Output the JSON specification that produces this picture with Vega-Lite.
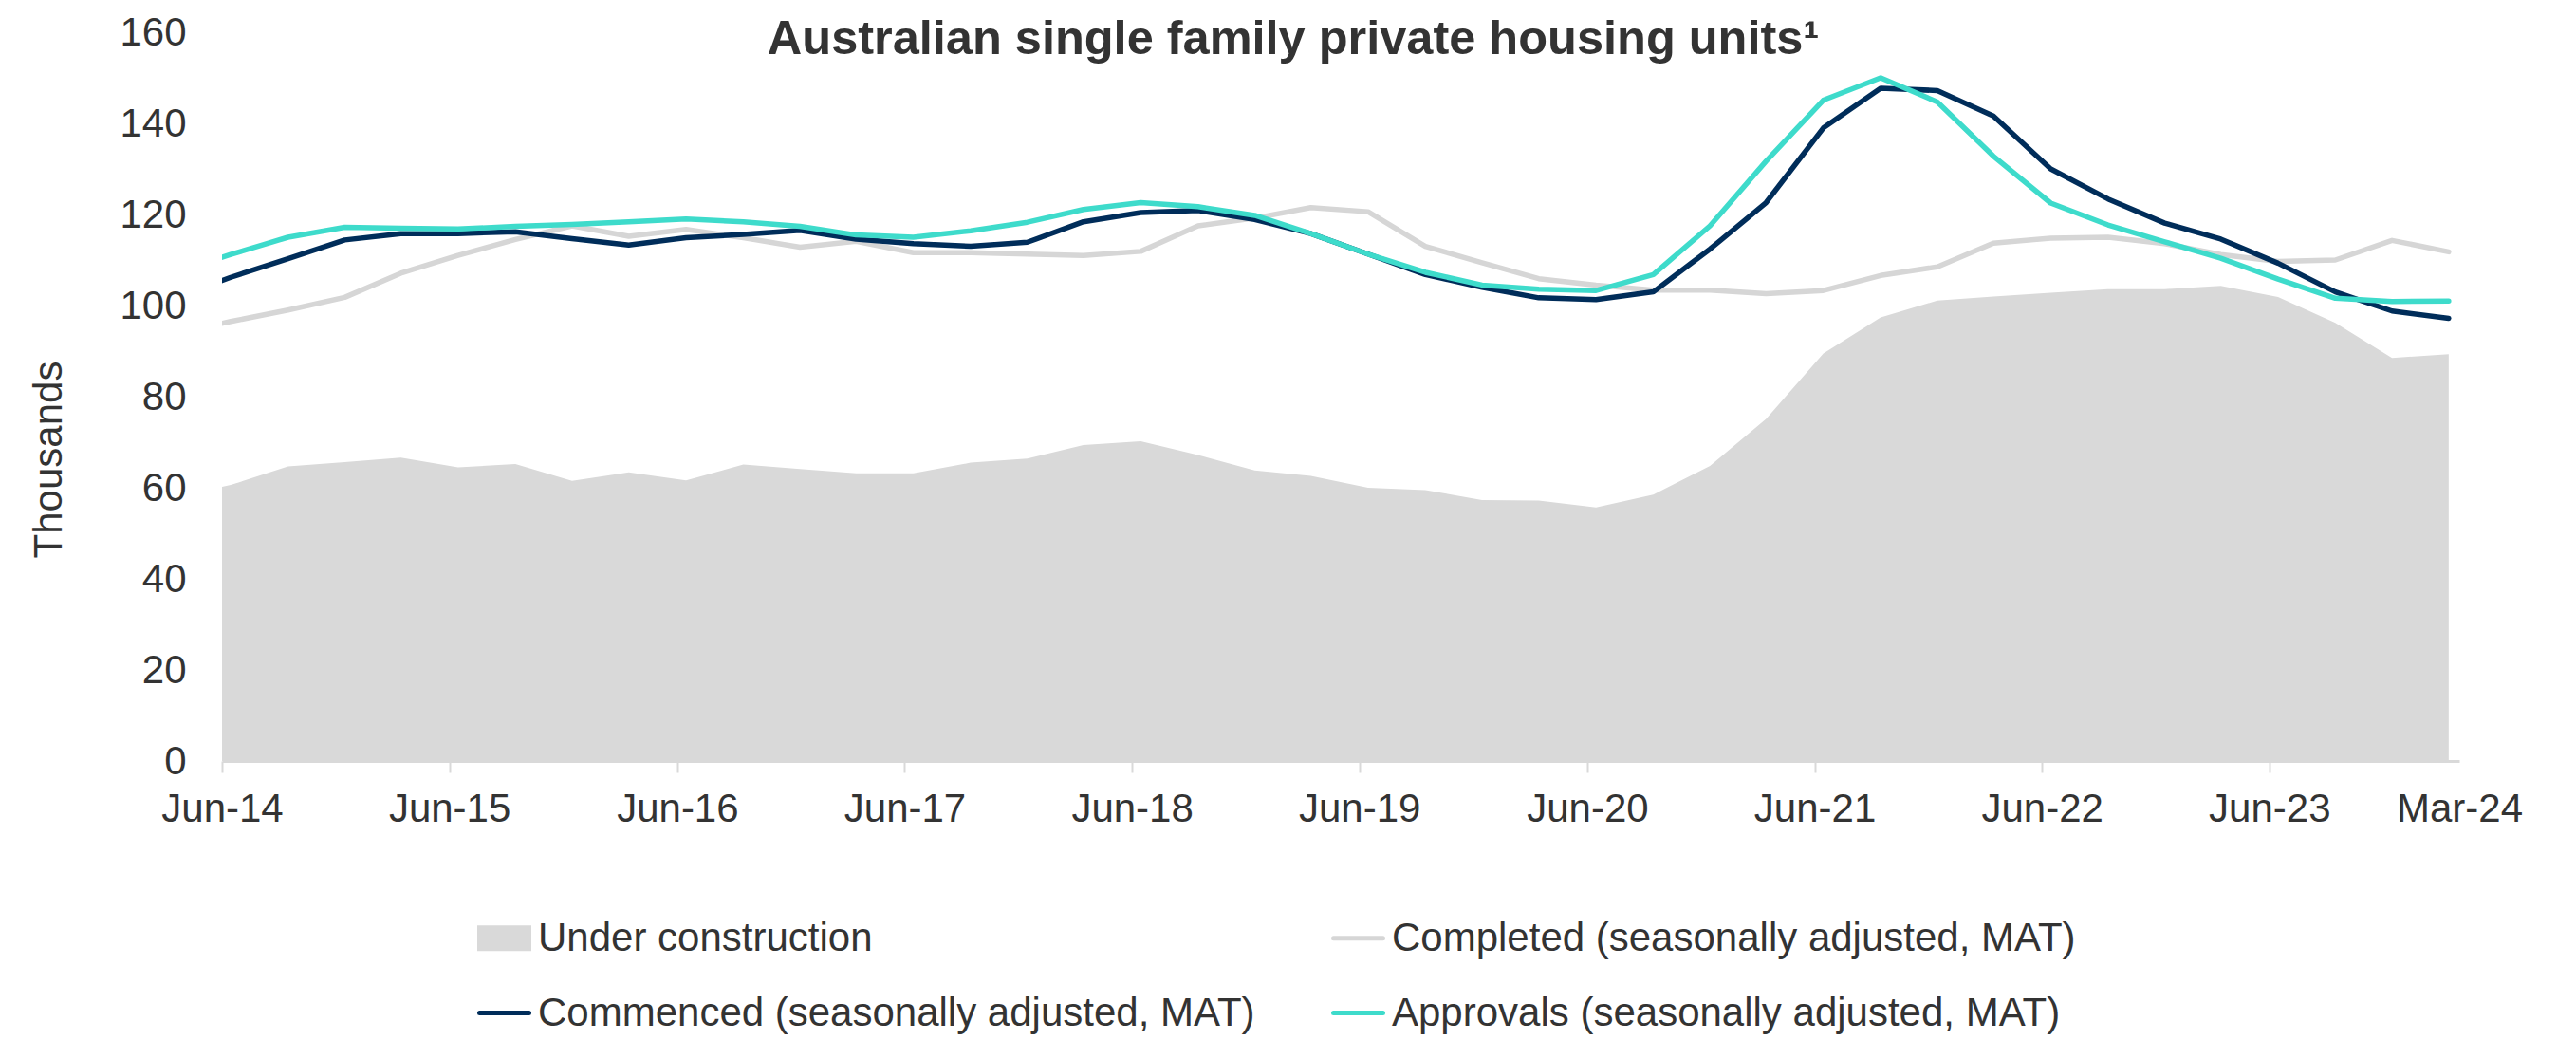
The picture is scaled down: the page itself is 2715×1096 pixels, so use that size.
{
  "$schema": "https://vega.github.io/schema/vega-lite/v6.json",
  "width": 2358,
  "height": 768,
  "autosize": {"type": "none"},
  "padding": {"left": 234, "top": 34, "right": 123, "bottom": 294},
  "background": "white",
  "config": {"view": {"stroke": null}, "font": "Liberation Sans"},
  "title": {
    "text": "Australian single family private housing units¹",
    "fontSize": 50.5,
    "fontWeight": "bold",
    "color": "#333333",
    "anchor": "middle",
    "frame": "group",
    "dx": -50,
    "baseline": "alphabetic",
    "offset": -94
  },
  "data": {
    "values": [
      {"date": "2014-03-15", "uc": 58.0, "completed": 93.8, "commenced": 101.5, "approvals": 107.2},
      {"date": "2014-06-15", "uc": 60.6, "completed": 96.5, "commenced": 106.2, "approvals": 111.2},
      {"date": "2014-09-15", "uc": 64.7, "completed": 99.0, "commenced": 110.3, "approvals": 115.0},
      {"date": "2014-12-15", "uc": 65.6, "completed": 101.8, "commenced": 114.4, "approvals": 117.2},
      {"date": "2015-03-15", "uc": 66.6, "completed": 107.1, "commenced": 115.8, "approvals": 117.0},
      {"date": "2015-06-15", "uc": 64.5, "completed": 111.0, "commenced": 115.8, "approvals": 116.8},
      {"date": "2015-09-15", "uc": 65.2, "completed": 114.5, "commenced": 116.2, "approvals": 117.4},
      {"date": "2015-12-15", "uc": 61.5, "completed": 117.5, "commenced": 114.7, "approvals": 117.8},
      {"date": "2016-03-15", "uc": 63.4, "completed": 115.2, "commenced": 113.3, "approvals": 118.4},
      {"date": "2016-06-15", "uc": 61.6, "completed": 116.7, "commenced": 114.9, "approvals": 119.0},
      {"date": "2016-09-15", "uc": 65.1, "completed": 114.9, "commenced": 115.6, "approvals": 118.4},
      {"date": "2016-12-15", "uc": 64.1, "completed": 112.8, "commenced": 116.5, "approvals": 117.4},
      {"date": "2017-03-15", "uc": 63.2, "completed": 114.1, "commenced": 114.6, "approvals": 115.5},
      {"date": "2017-06-15", "uc": 63.2, "completed": 111.6, "commenced": 113.6, "approvals": 115.0},
      {"date": "2017-09-15", "uc": 65.5, "completed": 111.6, "commenced": 113.0, "approvals": 116.4},
      {"date": "2017-12-15", "uc": 66.4, "completed": 111.3, "commenced": 113.9, "approvals": 118.3},
      {"date": "2018-03-15", "uc": 69.4, "completed": 111.0, "commenced": 118.4, "approvals": 121.1},
      {"date": "2018-06-15", "uc": 70.2, "completed": 111.9, "commenced": 120.4, "approvals": 122.6},
      {"date": "2018-09-15", "uc": 67.2, "completed": 117.5, "commenced": 120.9, "approvals": 121.7},
      {"date": "2018-12-15", "uc": 63.8, "completed": 119.2, "commenced": 118.9, "approvals": 119.8},
      {"date": "2019-03-15", "uc": 62.6, "completed": 121.5, "commenced": 115.8, "approvals": 115.8},
      {"date": "2019-06-15", "uc": 60.0, "completed": 120.6, "commenced": 111.3, "approvals": 111.3},
      {"date": "2019-09-15", "uc": 59.5, "completed": 113.0, "commenced": 106.8, "approvals": 107.3},
      {"date": "2019-12-15", "uc": 57.3, "completed": 109.4, "commenced": 104.0, "approvals": 104.5},
      {"date": "2020-03-15", "uc": 57.2, "completed": 105.9, "commenced": 101.7, "approvals": 103.6},
      {"date": "2020-06-15", "uc": 55.7, "completed": 104.5, "commenced": 101.3, "approvals": 103.3},
      {"date": "2020-09-15", "uc": 58.5, "completed": 103.4, "commenced": 103.0, "approvals": 106.8},
      {"date": "2020-12-15", "uc": 64.8, "completed": 103.4, "commenced": 112.4, "approvals": 117.5},
      {"date": "2021-03-15", "uc": 75.1, "completed": 102.6, "commenced": 122.6, "approvals": 131.7},
      {"date": "2021-06-15", "uc": 89.5, "completed": 103.3, "commenced": 139.0, "approvals": 145.1},
      {"date": "2021-09-15", "uc": 97.4, "completed": 106.6, "commenced": 147.7, "approvals": 150.0},
      {"date": "2021-12-15", "uc": 101.1, "completed": 108.5, "commenced": 147.2, "approvals": 144.7},
      {"date": "2022-03-15", "uc": 102.0, "completed": 113.7, "commenced": 141.6, "approvals": 132.8},
      {"date": "2022-06-15", "uc": 102.8, "completed": 114.8, "commenced": 130.0, "approvals": 122.5},
      {"date": "2022-09-15", "uc": 103.6, "completed": 115.0, "commenced": 123.4, "approvals": 117.7},
      {"date": "2022-12-15", "uc": 103.6, "completed": 113.6, "commenced": 118.1, "approvals": 114.0},
      {"date": "2023-03-15", "uc": 104.3, "completed": 111.2, "commenced": 114.6, "approvals": 110.4},
      {"date": "2023-06-15", "uc": 101.9, "completed": 109.7, "commenced": 109.3, "approvals": 105.8},
      {"date": "2023-09-15", "uc": 96.2, "completed": 110.0, "commenced": 103.0, "approvals": 101.6},
      {"date": "2023-12-15", "uc": 88.5, "completed": 114.3, "commenced": 98.8, "approvals": 100.9},
      {"date": "2024-03-15", "uc": 89.3, "completed": 111.8, "commenced": 97.2, "approvals": 101.0}
    ]
  },
  "transform": [{"fold": ["uc", "completed", "commenced", "approvals"], "as": ["series", "value"]}],
  "encoding": {
    "x": {
      "field": "date",
      "type": "temporal",
      "scale": {
        "type": "utc",
        "domain": [
          {"year": 2014, "month": 6, "date": 1, "utc": true},
          {"year": 2024, "month": 4, "date": 1, "utc": true}
        ]
      },
      "axis": {
        "values": [
          {"year": 2014, "month": 6, "date": 1, "utc": true},
          {"year": 2015, "month": 6, "date": 1, "utc": true},
          {"year": 2016, "month": 6, "date": 1, "utc": true},
          {"year": 2017, "month": 6, "date": 1, "utc": true},
          {"year": 2018, "month": 6, "date": 1, "utc": true},
          {"year": 2019, "month": 6, "date": 1, "utc": true},
          {"year": 2020, "month": 6, "date": 1, "utc": true},
          {"year": 2021, "month": 6, "date": 1, "utc": true},
          {"year": 2022, "month": 6, "date": 1, "utc": true},
          {"year": 2023, "month": 6, "date": 1, "utc": true},
          {"year": 2024, "month": 4, "date": 1, "utc": true}
        ],
        "labelExpr": "utcmonth(datum.value) == 3 ? 'Mar-24' : utcFormat(datum.value, '%b-%y')",
        "title": null,
        "grid": false,
        "domainColor": "#D9D9D9",
        "domainWidth": 3,
        "tickColor": "#D9D9D9",
        "tickWidth": 2,
        "tickSize": 12,
        "tickOpacity": {"condition": {"test": "utcmonth(datum.value) == 3", "value": 0}, "value": 1},
        "labelFontSize": 42,
        "labelColor": "#333333",
        "labelPadding": 18,
        "labelFlush": false,
        "labelOverlap": false
      }
    },
    "y": {
      "field": "value",
      "type": "quantitative",
      "scale": {"domain": [0, 160], "nice": false},
      "axis": {
        "values": [0, 20, 40, 60, 80, 100, 120, 140, 160],
        "title": "Thousands",
        "titleFontSize": 42,
        "titleFontWeight": "normal",
        "titleColor": "#333333",
        "titleAngle": 270,
        "titleX": -183,
        "titleY": 450,
        "titleAlign": "center",
        "titleBaseline": "middle",
        "domain": false,
        "ticks": false,
        "grid": false,
        "labelFontSize": 42,
        "labelColor": "#333333",
        "labelPadding": 38
      }
    },
    "color": {
      "field": "series",
      "type": "nominal",
      "scale": {
        "domain": ["uc", "completed", "commenced", "approvals"],
        "range": ["#D9D9D9", "#D6D6D6", "#002D5A", "#3EDBCB"]
      },
      "legend": {
        "title": null,
        "orient": "none",
        "legendX": 269,
        "legendY": 926,
        "columns": 2,
        "direction": "horizontal",
        "padding": 0,
        "columnPadding": 72,
        "rowPadding": 29,
        "labelFontSize": 42,
        "labelColor": "#333333",
        "labelOffset": 7,
        "labelLimit": 3000,
        "symbolSize": 2704,
        "labelExpr": "datum.value == 'uc' ? 'Under construction' : datum.value == 'completed' ? 'Completed (seasonally adjusted, MAT)' : datum.value == 'commenced' ? 'Commenced (seasonally adjusted, MAT)' : 'Approvals (seasonally adjusted, MAT)'",
        "encode": {
          "symbols": {
            "update": {
              "shape": {"signal": "datum.value == 'uc' ? 'M-1,-0.42H1V0.42H-1Z' : 'M-1,0H1'"},
              "fill": {"signal": "datum.value == 'uc' ? '#D9D9D9' : 'transparent'"},
              "stroke": {"signal": "datum.value == 'uc' ? 'transparent' : datum.value == 'commenced' ? '#002D5A' : datum.value == 'approvals' ? '#3EDBCB' : '#D6D6D6'"},
              "strokeWidth": {"value": 5},
              "strokeCap": {"value": "round"},
              "opacity": {"value": 1}
            }
          }
        }
      }
    }
  },
  "layer": [
    {
      "transform": [{"filter": "datum.series == 'uc'"}],
      "mark": {"type": "area", "clip": true, "opacity": 1}
    },
    {
      "transform": [{"filter": "datum.series != 'uc'"}],
      "mark": {"type": "line", "clip": true, "strokeWidth": 5.5, "strokeCap": "round", "strokeJoin": "round"}
    }
  ]
}
